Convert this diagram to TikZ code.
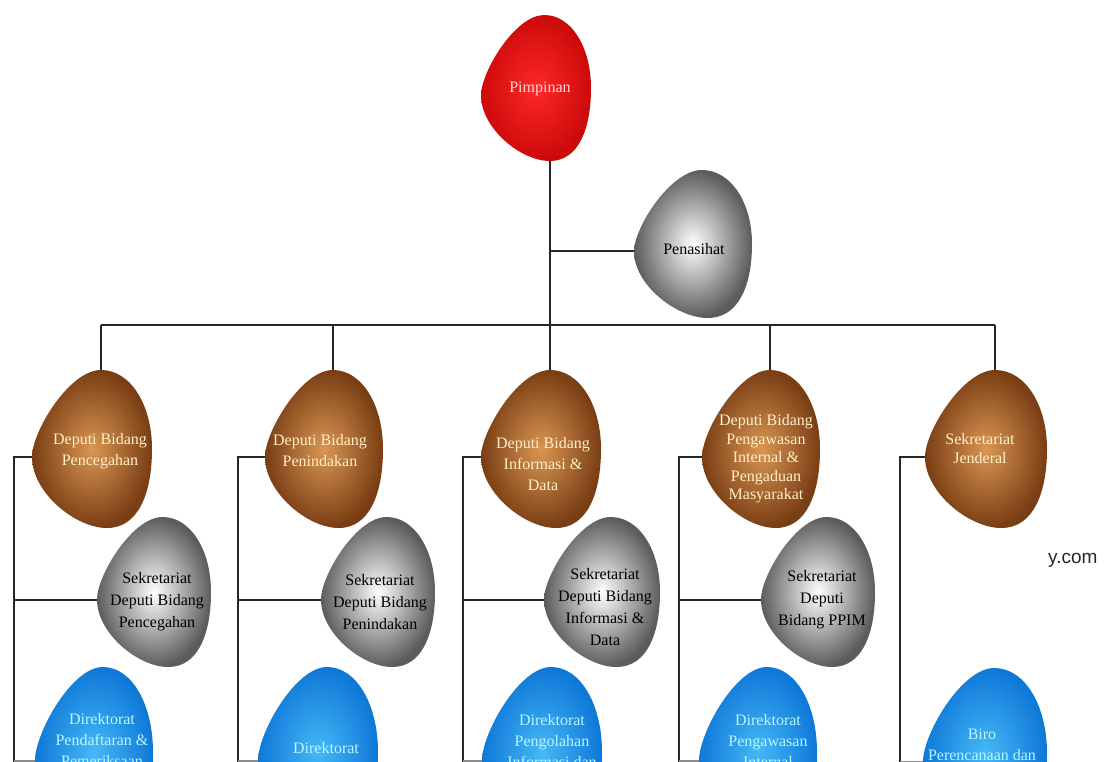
\documentclass[tikz,border=0pt]{standalone}
\usepackage{fontspec}
\setmainfont{Liberation Serif}
\newfontfamily\wmfont{Liberation Sans}
\definecolor{redin}{HTML}{FF2828}
\definecolor{redout}{HTML}{CC0A0A}
\definecolor{brownin}{HTML}{D99653}
\definecolor{brownout}{HTML}{7A3E14}
\definecolor{bluein}{HTML}{46B8F6}
\definecolor{blueout}{HTML}{0E78D8}
\definecolor{silverout}{HTML}{5C5C5C}
\definecolor{txtcream}{HTML}{FFF0C8}
\definecolor{txtblue}{HTML}{B8F6FF}
\definecolor{txtpink}{HTML}{FFD8D8}
\pgfdeclarelayer{bg}
\pgfsetlayers{bg,main}
\tikzset{
  conn/.style={line width=2pt, black!85},
  lbl/.style={align=center, inner sep=0pt, font=\fontsize{16}{21}\selectfont},
  redblob/.style={shading=radial, inner color=redin, outer color=redout},
  brownblob/.style={shading=radial, inner color=brownin, outer color=brownout},
  silverblob/.style={shading=radial, inner color=white, outer color=silverout},
  blueblob/.style={shading=radial, inner color=bluein, outer color=blueout},
}
% #1 name, #2 cx, #3 cy, #4 half width, #5 half height, #6 style
\newcommand\blobat[6]{%
  \begin{scope}[shift={(#2,#3)},x=#4pt,y=#5pt]
    \path[#6] (0.15,1) .. controls (0.65,1) and (1,0.55) .. (1,0)
      .. controls (1,-0.55) and (0.78,-1) .. (0.25,-1)
      .. controls (-0.28,-1) and (-1,-0.55) .. (-1,-0.1)
      .. controls (-1,0.22) and (-0.38,1) .. (0.15,1) -- cycle;
    \coordinate (#1-t) at (0.15,1);
    \coordinate (#1-l) at (-1,-0.1);
    \coordinate (#1-b) at (0.25,-1);
  \end{scope}}
\begin{document}
\begin{tikzpicture}[x=1pt,y=-1pt]
\useasboundingbox (0,0) rectangle (1109,761);
\clip (0,0) rectangle (1109,761);
% blobs
\blobat{pimB}{536}{88}{55}{73}{redblob}
\blobat{penB}{693}{244}{59}{74}{silverblob}
\blobat{d1B}{92}{449}{60}{79}{brownblob}
\blobat{d2B}{324}{449}{59}{79}{brownblob}
\blobat{d3B}{541}{449}{60}{79}{brownblob}
\blobat{d4B}{761}{449}{59}{79}{brownblob}
\blobat{d5B}{986}{449}{61}{79}{brownblob}
\blobat{s1B}{154}{592}{57}{75}{silverblob}
\blobat{s2B}{378}{592}{57}{75}{silverblob}
\blobat{s3B}{602}{592}{58}{75}{silverblob}
\blobat{s4B}{818}{592}{57}{75}{silverblob}
\blobat{b1B}{94}{752}{59}{85}{blueblob}
\blobat{b2B}{318}{752}{60}{85}{blueblob}
\blobat{b3B}{542}{752}{60}{85}{blueblob}
\blobat{b4B}{758}{752}{59}{85}{blueblob}
\blobat{b5B}{985}{753}{62}{85}{blueblob}
% labels
\node[lbl, text=txtpink] (pim) at (540,89) {Pimpinan};
\node[lbl, text=black] (pen) at (694,249) {Penasihat};
\node[lbl, text=txtcream] (d1) at (100,451) {Deputi Bidang\\Pencegahan};
\node[lbl, text=txtcream] (d2) at (320,451) {Deputi Bidang\\Penindakan};
\node[lbl, text=txtcream] (d3) at (543,464) {Deputi Bidang\\Informasi \&\\Data};
\node[lbl, text=txtcream, font=\fontsize{16}{18.5}\selectfont] (d4) at (766,459) {Deputi Bidang\\Pengawasan\\Internal \&\\Pengaduan\\Masyarakat};
\node[lbl, text=txtcream, font=\fontsize{16}{19}\selectfont] (d5) at (980,449) {Sekretariat\\Jenderal};
\node[lbl, text=black, font=\fontsize{16}{22}\selectfont] (s1) at (157,602) {Sekretariat\\Deputi Bidang\\Pencegahan};
\node[lbl, text=black, font=\fontsize{16}{22}\selectfont] (s2) at (380,602) {Sekretariat\\Deputi Bidang\\Penindakan};
\node[lbl, text=black, font=\fontsize{16}{22}\selectfont] (s3) at (605,607) {Sekretariat\\Deputi Bidang\\Informasi \&\\Data};
\node[lbl, text=black, font=\fontsize{16}{22}\selectfont] (s4) at (822,600) {Sekretariat\\Deputi\\Bidang PPIM};
\node[lbl, text=txtblue] (b1) at (102,740) {Direktorat\\Pendaftaran \&\\Pemeriksaan};
\node[lbl, text=txtblue] (b2) at (326,748) {Direktorat};
\node[lbl, text=txtblue] (b3) at (552,741) {Direktorat\\Pengolahan\\Informasi dan};
\node[lbl, text=txtblue] (b4) at (768,741) {Direktorat\\Pengawasan\\Internal};
\node[lbl, text=txtblue] (b5) at (982,745) {Biro\\Perencanaan dan};
\node[anchor=base west, inner sep=0pt, font=\wmfont\fontsize{19}{19}\selectfont, text=black!85] (wm) at (1048,563) {y.com};
% connectors
\coordinate (bus) at (0,325);
\coordinate (end) at (0,775);
\coordinate (r1) at (14,0);
\coordinate (r2) at (238,0);
\coordinate (r3) at (463,0);
\coordinate (r4) at (679,0);
\coordinate (r5) at (900,0);
\begin{pgfonlayer}{bg}
\fill[white] (0,0) rectangle (1109,761);
\clip (0,0) rectangle (1109,761);
\draw[conn] (pimB-b) -- (pimB-b |- d3B-t);
\draw[conn] (pimB-b |- penB-l) -- (penB-l);
\draw[conn] (d1B-t |- bus) -- (d5B-t |- bus);
\foreach \d in {d1B,d2B,d4B,d5B}{\draw[conn] (\d-t) -- (\d-t |- bus);}
\foreach \d/\r in {d1B/r1,d2B/r2,d3B/r3,d4B/r4,d5B/r5}{\draw[conn] (\d-l) -- (\d-l -| \r) -- (\r |- end);}
\foreach \s/\r in {s1B/r1,s2B/r2,s3B/r3,s4B/r4}{\draw[conn] (\r |- \s-l) -- (\s-l);}
\foreach \b/\r in {b1B/r1,b2B/r2,b3B/r3,b4B/r4,b5B/r5}{\draw[conn, black!45] (\r |- \b-l) -- (\b-l);}
\end{pgfonlayer}
\end{tikzpicture}
\end{document}
